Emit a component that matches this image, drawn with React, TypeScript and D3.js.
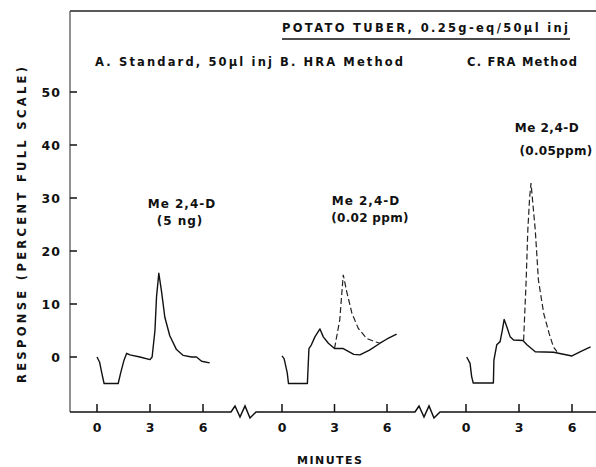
import React from "react";
import * as d3 from "d3";

// Panel A: standard
const aTime = [0, 0.15, 0.27, 0.4, 1.2, 1.34, 1.53, 1.68, 1.86, 2.43, 3.0, 3.12, 3.28, 3.37, 3.5, 3.66, 3.84, 4.12, 4.5, 4.88, 5.35, 5.63, 5.92, 6.38];
const aResp = [0, -1, -3, -5, -5, -3, -0.6, 0.7, 0.4, 0, -0.5, 0, 5, 11.4, 15.8, 12.2, 7.5, 4.0, 1.4, 0.3, 0, 0, -0.8, -1.1];

// Panel B: HRA method
const bTime = [0, 0.12, 0.3, 0.37, 1.45, 1.54, 1.68, 1.88, 2.17, 2.36, 2.65, 3.0, 3.5, 4.1, 4.45, 5.0, 5.6, 6.0, 6.55];
const bResp = [0.2, -0.3, -3, -5, -5, 1.6, 2.3, 3.8, 5.3, 3.8, 2.6, 1.6, 1.6, 0.5, 0.4, 1.3, 2.6, 3.4, 4.3];
const bSpikeTime = [3.0, 3.3, 3.5, 3.7, 4.0, 4.36, 4.84, 5.3, 5.6];
const bSpikeResp = [1.6, 7, 15.5, 12.3, 8.2, 5.4, 3.5, 2.9, 2.6];

// Panel C: FRA method
const cTime = [0.04, 0.23, 0.32, 0.41, 1.55, 1.58, 1.74, 1.93, 2.06, 2.16, 2.31, 2.5, 2.69, 3.22, 3.45, 3.92, 4.96, 6.0, 6.48, 7.05];
const cResp = [0, -1.2, -3.7, -4.9, -4.9, -0.6, 2.3, 2.9, 5.1, 7.1, 5.7, 3.8, 3.2, 3.1, 2.3, 1.0, 0.9, 0.2, 1.0, 1.9];
const cSpikeTime = [3.26, 3.4, 3.5, 3.6, 3.68, 3.92, 4.1, 4.4, 4.7, 4.95, 5.15];
const cSpikeResp = [3.1, 14, 24, 30, 32.8, 24, 14.5, 8.2, 4.5, 1.9, 1.0];

const yTicks = [0, 10, 20, 30, 40, 50];
const xTicks = [0, 3, 6];

const font = "'DejaVu Sans', sans-serif";

type Pt = [number, number];
const zip = (t: number[], v: number[]): Pt[] => t.map((d, i) => [d, v[i]]);

export default function App() {
  const w = 596;
  const h = 467;
  const axisX = 70;
  const topY = 11;
  const baseY = 412;

  const y = d3.scaleLinear().domain([0, 50]).range([357, 92]);
  const xA = d3.scaleLinear().domain([0, 6]).range([97, 203]);
  const xB = d3.scaleLinear().domain([0, 6]).range([282, 387]);
  const xC = d3.scaleLinear().domain([0, 6]).range([466, 572]);

  const lineFor = (x: d3.ScaleLinear<number, number>) =>
    d3.line<Pt>().x((d) => x(d[0])).y((d) => y(d[1]));

  const panels = [
    { x: xA, solid: zip(aTime, aResp), dashed: null as Pt[] | null },
    { x: xB, solid: zip(bTime, bResp), dashed: zip(bSpikeTime, bSpikeResp) },
    { x: xC, solid: zip(cTime, cResp), dashed: zip(cSpikeTime, cSpikeResp) },
  ];

  // baseline with zigzag breaks between panels
  const breakPath = (x0: number) =>
    `L${x0},${baseY} L${x0 + 4},${baseY - 6} L${x0 + 9},${baseY + 5} L${x0 + 14},${baseY - 6} L${x0 + 19},${baseY + 6} L${x0 + 25},${baseY}`;
  const baseline = `M${axisX},${baseY} ${breakPath(231)} ${breakPath(415)} L${w},${baseY}`;

  const txt = {
    fontFamily: font,
    fontWeight: "bold" as const,
    fontSize: 11,
    fill: "#111",
  };

  return (
    <svg width={w} height={h} style={{ position: "absolute", left: 0, top: 0, background: "#fff" }}>
      {/* frame */}
      <line x1={axisX} y1={topY} x2={w} y2={topY} stroke="#222" strokeWidth={1.5} />
      <line x1={axisX} y1={topY} x2={axisX} y2={baseY} stroke="#555" strokeWidth={1.3} />
      <path d={baseline} fill="none" stroke="#111" strokeWidth={1.5} />

      {/* y axis */}
      {yTicks.map((t) => (
        <g key={t}>
          <line x1={axisX} x2={axisX + 7} y1={y(t)} y2={y(t)} stroke="#111" strokeWidth={1.5} />
          <text {...txt} fontSize={12.5} x={61} y={y(t) + 4.5} textAnchor="end" letterSpacing={1}>
            {t}
          </text>
        </g>
      ))}
      <text
        {...txt}
        fontSize={11.5}
        transform="rotate(-90)"
        x={-225}
        y={26}
        textAnchor="middle"
        textLength={316}
        lengthAdjust="spacing"
      >
        RESPONSE (PERCENT FULL SCALE)
      </text>

      {/* x ticks per panel */}
      {panels.map((p, i) =>
        xTicks.map((t) => (
          <g key={`${i}-${t}`}>
            <line x1={p.x(t)} x2={p.x(t)} y1={baseY} y2={baseY - 8} stroke="#111" strokeWidth={1.5} />
            <text {...txt} fontSize={12.5} x={p.x(t)} y={432} textAnchor="middle">
              {t}
            </text>
          </g>
        ))
      )}
      <text {...txt} x={297} y={464} textLength={65} lengthAdjust="spacing">
        MINUTES
      </text>

      {/* traces */}
      {panels.map((p, i) => (
        <g key={i}>
          <path d={lineFor(p.x)(p.solid) || ""} fill="none" stroke="#111" strokeWidth={1.4} strokeLinejoin="round" />
          {p.dashed && (
            <path
              d={lineFor(p.x)(p.dashed) || ""}
              fill="none"
              stroke="#222"
              strokeWidth={1.2}
              strokeDasharray="6,3"
            />
          )}
        </g>
      ))}

      {/* headings */}
      <text {...txt} fontSize={11.5} x={282} y={32} textLength={286} lengthAdjust="spacing">
        POTATO TUBER, 0.25g-eq/50µl inj
      </text>
      <line x1={282} x2={570} y1={39} y2={39} stroke="#111" strokeWidth={1.3} />
      <text {...txt} fontSize={11.5} x={95} y={66} textLength={177} lengthAdjust="spacing">
        A.  Standard, 50µl inj
      </text>
      <text {...txt} fontSize={11.5} x={280} y={66} textLength={123} lengthAdjust="spacing">
        B.  HRA Method
      </text>
      <text {...txt} fontSize={11.5} x={467} y={66} textLength={110} lengthAdjust="spacing">
        C.  FRA Method
      </text>

      {/* peak labels */}
      <text {...txt} fontSize={12} x={182} y={208} textAnchor="middle" letterSpacing={1}>Me 2,4-D</text>
      <text {...txt} fontSize={12} x={180} y={225} textAnchor="middle" letterSpacing={1}>(5 ng)</text>
      <text {...txt} fontSize={12} x={366} y={205} textAnchor="middle" letterSpacing={1}>Me 2,4-D</text>
      <text {...txt} fontSize={12} x={370} y={222} textAnchor="middle" letterSpacing={0.3}>(0.02 ppm)</text>
      <text {...txt} fontSize={12} x={547} y={132} textAnchor="middle" letterSpacing={0.5}>Me 2,4-D</text>
      <text {...txt} fontSize={12} x={556} y={155} textAnchor="middle" letterSpacing={0.3}>(0.05ppm)</text>
    </svg>
  );
}
